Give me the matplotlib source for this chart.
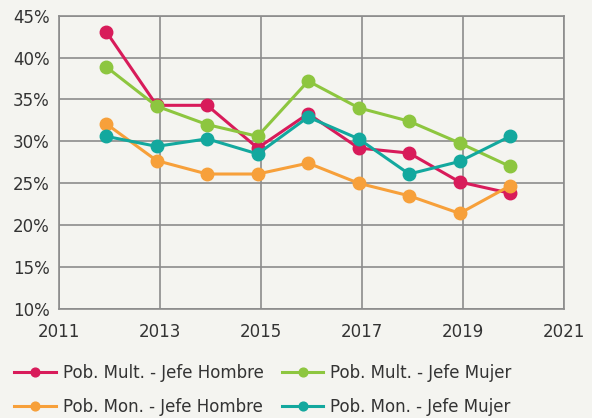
import matplotlib
matplotlib.use("Agg")
import matplotlib.pyplot as plt
from matplotlib.ticker import FuncFormatter

years = [2012, 2013, 2014, 2015, 2016, 2017, 2018, 2019, 2020]
mult_hombre = [43.1, 34.3, 34.3, 29.2, 33.3, 29.2, 28.6, 25.15, 23.8]
mult_mujer = [38.9, 34.2, 32.0, 30.6, 37.2, 34.0, 32.4, 29.8, 27.0]
mon_hombre = [32.1, 27.7, 26.1, 26.1, 27.4, 25.0, 23.5, 21.4, 24.7]
mon_mujer = [30.6, 29.4, 30.3, 28.5, 32.9, 30.3, 26.1, 27.6, 30.6]

labels = ["Pob. Mult. - Jefe Hombre", "Pob. Mult. - Jefe Mujer",
          "Pob. Mon. - Jefe Hombre", "Pob. Mon. - Jefe Mujer"]
colors = ["#D81B5A", "#8DC63F", "#F7A03A", "#13A89E"]
series = [mult_hombre, mult_mujer, mon_hombre, mon_mujer]

x_shift = -0.07
xs = [y + x_shift for y in years]

plt.rcParams['font.family'] = ['DejaVu Sans']
bg = "#F4F4F0"
fig = plt.figure(figsize=(5.92, 4.18), dpi=100, facecolor=bg)
ax = fig.add_axes([0.100, 0.261, 0.853, 0.7015], facecolor=bg)

for vals, c, lab in zip(series, colors, labels):
    ax.plot(xs, vals, color=c, lw=2.2, marker='o', ms=9, label=lab, zorder=3)

ax.set_xlim(2011, 2021)
ax.set_ylim(10, 45)
ax.set_xticks([2011, 2013, 2015, 2017, 2019, 2021])
ax.set_yticks([10, 15, 20, 25, 30, 35, 40, 45])
ax.yaxis.set_major_formatter(FuncFormatter(lambda v, p: f"{int(v)}%"))
ax.grid(True, color="#8C8C8C", lw=1.2, zorder=0)
for s in ax.spines.values():
    s.set_color("#8C8C8C")
    s.set_linewidth(1.2)
ax.tick_params(length=0, labelsize=12, colors="#333333", pad=7)
ax.tick_params(axis='x', pad=10)

h, l = ax.get_legend_handles_labels()
order = [0, 2, 1, 3]
leg = fig.legend([h[i] for i in order], [l[i] for i in order],
                 loc='upper left', bbox_to_anchor=(14 / 592, 1 - 364 / 418), ncol=2,
                 frameon=False, fontsize=12, handlelength=2.5, handletextpad=0.42,
                 columnspacing=1.09, labelspacing=0.97, markerscale=0.7,
                 borderpad=0, borderaxespad=0, labelcolor="#333333")
fig.savefig("out.png", dpi=100, facecolor=bg)
